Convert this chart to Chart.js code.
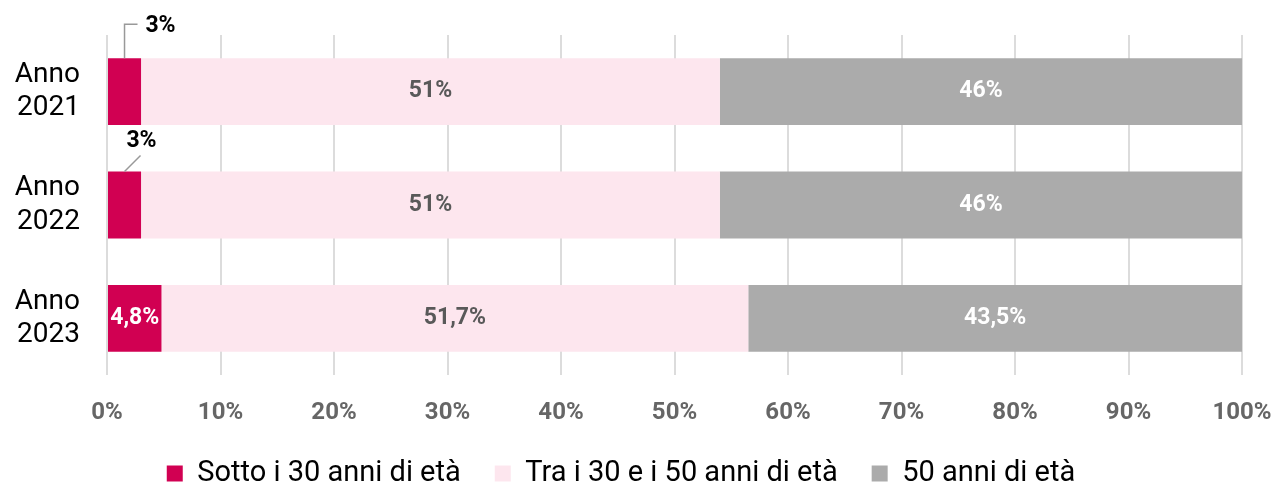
<!DOCTYPE html>
<html>
<head>
<meta charset="utf-8">
<script src="https://cdn.jsdelivr.net/npm/chart.js@4/dist/chart.umd.min.js"></script>
<style>
  html, body { margin: 0; padding: 0; background: #fff; }
  #wrap { width: 1271px; height: 484px; }
</style>
</head>
<body>
<div id="wrap"><canvas id="chart"></canvas></div>
<script>
const categories = [['Anno', '2021'], ['Anno', '2022'], ['Anno', '2023']];
const seriesNames = ['Sotto i 30 anni di età', 'Tra i 30 e i 50 anni di età', '50 anni di età'];
const under30 = [3, 3, 4.8];
const between30and50 = [51, 51, 51.7];
const over50 = [46, 46, 43.5];
const xTicks = [0, 10, 20, 30, 40, 50, 60, 70, 80, 90, 100];

const colors = ['#D10052', '#FDE6EE', '#ABABAB'];
const labelColors = ['#ffffff', '#595959', '#ffffff'];

function fmt(v) {
    return String(v).replace('.', ',') + '%';
}

// draws the value labels; small slices get an outside label with a leader line
const valueLabels = {
    id: 'valueLabels',
    afterDatasetsDraw(chart) {
        const ctx = chart.ctx;
        ctx.save();
        ctx.font = 'bold 23px Roboto';
        ctx.textAlign = 'center';
        ctx.textBaseline = 'middle';
        chart.data.datasets.forEach((ds, di) => {
            const meta = chart.getDatasetMeta(di);
            meta.data.forEach((bar, i) => {
                const v = ds.data[i];
                const cx = (bar.x + bar.base) / 2;
                const top = bar.y - bar.height / 2;
                if (v < 4) {
                    ctx.strokeStyle = '#999';
                    ctx.lineWidth = 1.5;
                    ctx.fillStyle = '#000';
                    ctx.beginPath();
                    if (i === 0) {
                        ctx.moveTo(cx, top);
                        ctx.lineTo(cx, top - 34);
                        ctx.lineTo(cx + 13, top - 34);
                        ctx.stroke();
                        ctx.fillText(fmt(v), cx + 36, top - 32);
                    } else {
                        ctx.moveTo(cx, top);
                        ctx.lineTo(cx + 16, top - 16);
                        ctx.stroke();
                        ctx.fillText(fmt(v), cx + 17, top - 30);
                    }
                } else {
                    ctx.fillStyle = labelColors[di];
                    ctx.fillText(fmt(v), cx, bar.y);
                }
            });
        });
        ctx.restore();
    }
};

new Chart(document.getElementById('chart'), {
    type: 'bar',
    data: {
        labels: categories,
        datasets: [
            { label: seriesNames[0], data: under30, backgroundColor: colors[0] },
            { label: seriesNames[1], data: between30and50, backgroundColor: colors[1] },
            { label: seriesNames[2], data: over50, backgroundColor: colors[2] },
        ],
    },
    options: {
        indexAxis: 'y',
        responsive: true,
        maintainAspectRatio: false,
        animation: false,
        datasets: {
            bar: { barPercentage: 0.59, categoryPercentage: 1, borderWidth: 0 },
        },
        layout: { padding: { top: 35, right: 29, left: 0, bottom: -14 } },
        scales: {
            x: {
                stacked: true,
                min: 0,
                max: 100,
                afterBuildTicks(scale) {
                    scale.ticks = xTicks.map(v => ({ value: v }));
                },
                afterFit(scale) {
                    scale.height = 50;
                    scale.paddingLeft = 0;
                    scale.paddingRight = 0;
                },
                grid: { color: '#DCDCDC', lineWidth: 2, drawTicks: false },
                border: { display: false },
                ticks: {
                    padding: 24,
                    color: '#666666',
                    font: { family: 'Roboto', size: 24, weight: 'bold' },
                    callback: v => v + '%',
                },
            },
            y: {
                stacked: true,
                grid: { display: false, drawTicks: false },
                border: { display: false },
                afterFit(scale) {
                    scale.width = 107;
                    scale.paddingTop = 0;
                    scale.paddingBottom = 0;
                },
                ticks: {
                    padding: 27,
                    color: '#000',
                    font: { family: 'Roboto', size: 28, lineHeight: 1.2 },
                },
            },
        },
        plugins: {
            legend: {
                position: 'bottom',
                labels: {
                    boxWidth: 16,
                    boxHeight: 16,
                    padding: 34,
                    color: '#000',
                    font: { family: 'Roboto', size: 29, lineHeight: 1 },
                },
            },
            tooltip: { enabled: false },
        },
    },
    plugins: [valueLabels],
});
</script>
</body>
</html>
